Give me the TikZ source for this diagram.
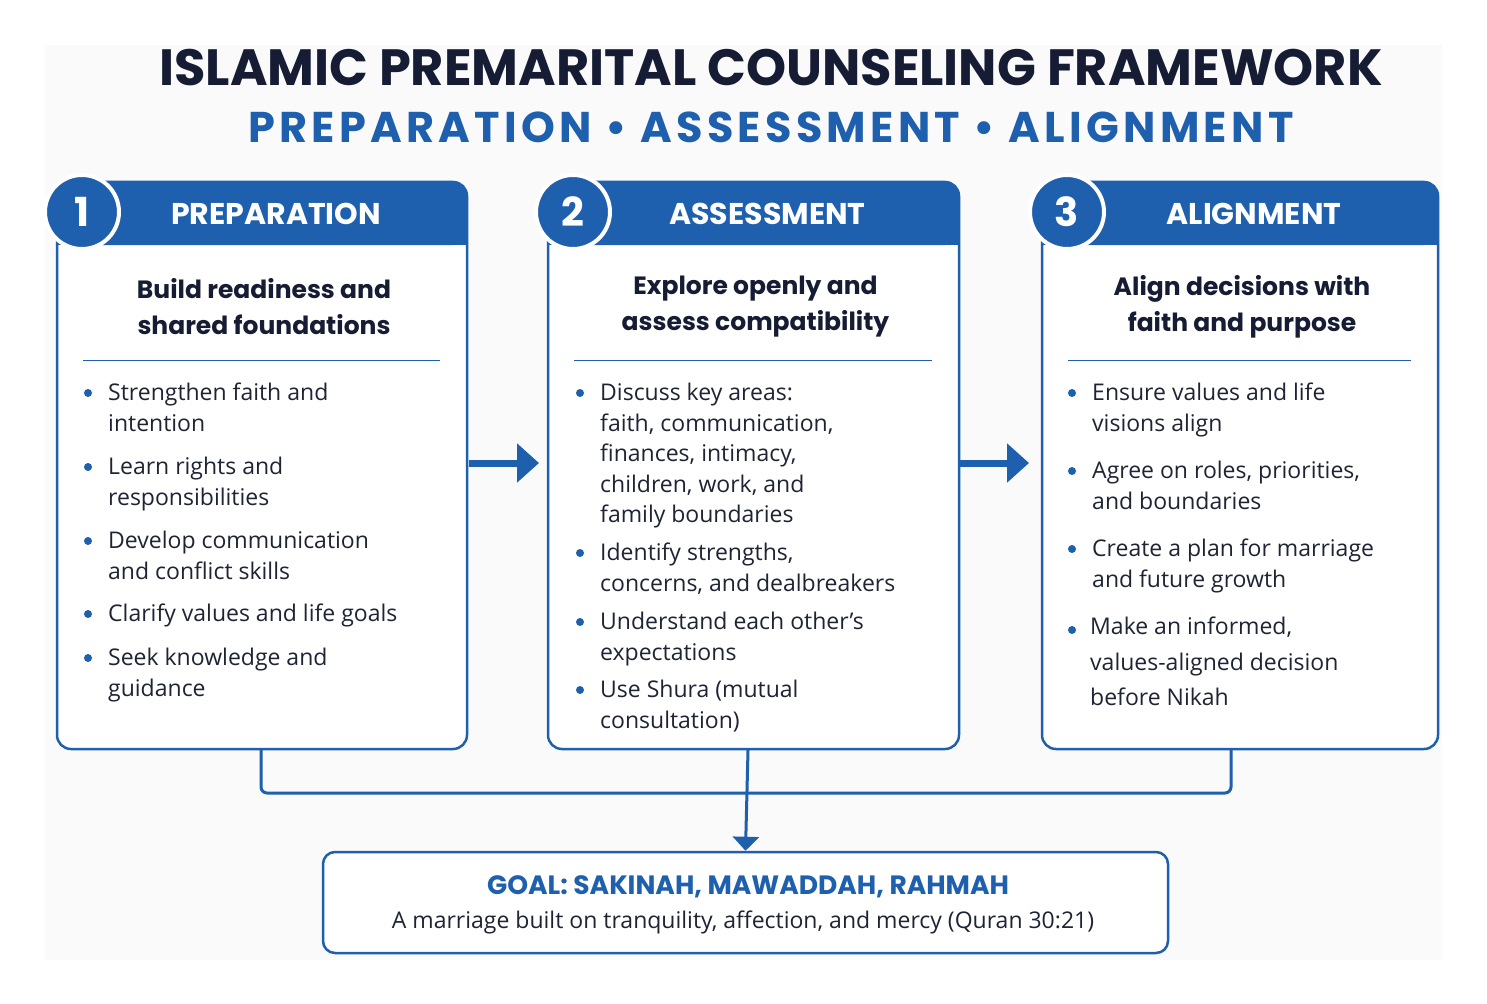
\documentclass[tikz,border=0pt]{standalone}
\usepackage{fontspec}
\setmainfont{Open Sans}
\newfontfamily\headf{Poppins}
\newfontfamily\headsp{Poppins}[LetterSpace=10]
\usetikzlibrary{arrows.meta}
\definecolor{bl}{HTML}{1E5FAE}
\definecolor{navy}{HTML}{151C33}
\definecolor{txt}{HTML}{1E2433}
\begin{document}
\begin{tikzpicture}[x=1pt,y=-1pt,
 box/.style={draw=bl,line width=2.5pt,rounded corners=14pt},
 head/.style={font=\headf\bfseries\fontsize{30}{34}\selectfont,text=white},
 num/.style={circle,fill=bl,draw=white,line width=4pt,minimum size=74pt,inner sep=0pt,text=white,font=\headf\bfseries\fontsize{40}{40}\selectfont},
 sub/.style={font=\headf\bfseries\fontsize{25}{36}\selectfont,text=navy,align=center},
 bul/.style={anchor=north west,align=left,inner sep=0pt,text=txt,font=\fontsize{23}{30.5}\selectfont},
 dot/.style={circle,fill=bl,inner sep=0pt,minimum size=8pt},
 flow/.style={draw=bl,line width=3pt},
 big/.style={draw=bl,line width=7pt,-{Triangle[length=22pt,width=38pt]}}]
\useasboundingbox (0,0) rectangle (1487,1003);
\fill[white] (0,0) rectangle (1487,1003);
\fill[gray!4] (45,45) rectangle (1442,960);
\node[font=\headf\bfseries\fontsize{51}{58}\selectfont,text=navy] (title) at (771,68) {ISLAMIC PREMARITAL COUNSELING FRAMEWORK};
\node[font=\headsp\bfseries\fontsize{43}{50}\selectfont,text=bl] (subt) at (771,127) {PREPARATION \textbullet\ ASSESSMENT \textbullet\ ALIGNMENT};
% boxes
\foreach \n/\a/\b/\h/\s in {1/57/467/PREPARATION/{Build readiness and\\shared foundations},2/548/959/ASSESSMENT/{Explore openly and\\assess compatibility},3/1042/1438/ALIGNMENT/{Align decisions with\\faith and purpose}}{
 \fill[white,rounded corners=14pt] (\a,182) rectangle (\b,749);
 \fill[bl,rounded corners=14pt] (\a,182) rectangle (\b,245);
 \fill[bl] (\a,220) rectangle (\b,245);
 \draw[box] (\a,182) rectangle (\b,749);
 \node[num] (n\n) at ({\a+25},212) {\n};
 \node[head] (h\n) at ({(\a+\b)/2+14},214) {\h};
 \node[sub] (s\n) at ({(\a+\b)/2+2},307) {\s};
 \draw[bl,line width=1pt] ({\a+26},360) -- ({\b-27},360);
}
% bullets
\foreach \x/\y/\t [count=\i] in {
 88/393/{Strengthen faith and\\intention},88/467/{Learn rights and\\responsibilities},88/541/{Develop communication\\and conflict skills},88/614/{Clarify values and life goals},88/658/{Seek knowledge and\\guidance},
 580/393/{Discuss key areas:\\faith, communication,\\finances, intimacy,\\children, work, and\\family boundaries},580/553/{Identify strengths,\\concerns, and dealbreakers},580/622/{Understand each other’s\\expectations},580/690/{Use Shura (mutual\\consultation)},
 1072/393/{Ensure values and life\\visions align},1072/471/{Agree on roles, priorities,\\and boundaries},1072/549/{Create a plan for marriage\\and future growth}}{
 \node[dot] (d\i) at (\x,\y) {};
 \node[bul] (b\i) at (\x+20,{\y-10}) {\t};
}
\node[dot] (d12) at (1072,630) {};
\node[bul,font=\fontsize{23}{35.5}\selectfont] (b12) at (1090,617) {Make an informed,\\values-aligned decision\\before Nikah};
% arrows
\coordinate (a1s) at (469,463); \coordinate (a1e) at (539,463);
\coordinate (a2s) at (960,463); \coordinate (a2e) at (1029,463);
\draw[big] (a1s) -- (a1e);
\draw[big] (a2s) -- (a2e);
% goal
\node[draw=bl,line width=2.5pt,rounded corners=12pt,minimum width=845pt,minimum height=101pt,fill=white] (goal) at (745.5,902.5) {};
\node[font=\headf\bfseries\fontsize{26.5}{30}\selectfont,text=bl] (g1) at (748,887) {GOAL: SAKINAH, MAWADDAH, RAHMAH};
\node[font=\fontsize{23}{28}\selectfont,text=txt] (g2) at (743,922) {A marriage built on tranquility, affection, and mercy (Quran 30:21)};
\coordinate (c1) at (261,750); \coordinate (c3) at (1231,750); \coordinate (c2) at (748,750);
\draw[flow,rounded corners=6pt] (c1) -- (261,793) -- (1231,793) -- (c3);
\draw[flow,-{Triangle[length=14pt,width=26pt]}] (c2) -- (goal.north);
\end{tikzpicture}
\end{document}
